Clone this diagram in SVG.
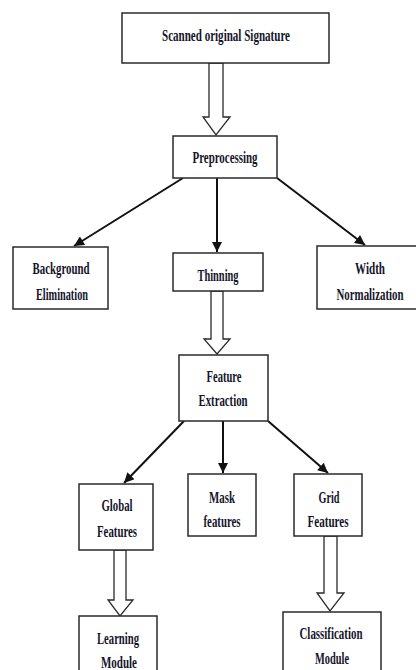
<svg xmlns="http://www.w3.org/2000/svg" width="416" height="670" viewBox="0 0 416 670">
<style>
.box{fill:#fff;stroke:#2a2a2a;stroke-width:1.5}
.t{font-family:"Liberation Serif","Times New Roman",serif;font-weight:bold;font-size:16px;fill:#14142a;text-anchor:middle}
.ln{stroke:#111;stroke-width:2;fill:none}
.hollow{fill:#fff;stroke:#2a2a2a;stroke-width:1.3;stroke-linejoin:miter}
</style>
<defs>
<marker id="ah" viewBox="0 0 10 10" refX="10" refY="5" markerWidth="5.5" markerHeight="5" orient="auto" markerUnits="strokeWidth">
<path d="M0,0 L10,5 L0,10 z" fill="#111"/>
</marker>
</defs>
<rect width="416" height="670" fill="#fff"/>
<g id="connectors">
<polygon class="hollow" points="209,63 223,63 223,117 230,117 216,135 203,117 209,117"/>
<line class="ln" x1="183" y1="178" x2="74" y2="246" marker-end="url(#ah)"/>
<line class="ln" x1="217" y1="178" x2="217" y2="252" marker-end="url(#ah)"/>
<line class="ln" x1="277" y1="178" x2="365" y2="245" marker-end="url(#ah)"/>
<polygon class="hollow" points="211,291 223,291 223,339 230,339 217,354 204,339 211,339"/>
<line class="ln" x1="184" y1="421" x2="124" y2="483" marker-end="url(#ah)"/>
<line class="ln" x1="223" y1="421" x2="223" y2="473" marker-end="url(#ah)"/>
<line class="ln" x1="268" y1="421" x2="328" y2="473" marker-end="url(#ah)"/>
<polygon class="hollow" points="114,550 126,550 126,600 133,600 120,616 108,600 114,600"/>
<polygon class="hollow" points="324,536 337,536 337,593 344,593 330,611 317,593 324,593"/>
</g>
<g id="scanned">
<rect class="box" x="122" y="13" width="207" height="50"/>
<text class="t" x="226" y="40.5" textLength="128" lengthAdjust="spacingAndGlyphs">Scanned original Signature</text>
</g>
<g id="preprocessing">
<rect class="box" x="173" y="136" width="104" height="42"/>
<text class="t" x="225" y="163" textLength="65" lengthAdjust="spacingAndGlyphs">Preprocessing</text>
</g>
<g id="background">
<rect class="box" x="13" y="247" width="95" height="62"/>
<text class="t" x="61" y="274" textLength="57" lengthAdjust="spacingAndGlyphs">Background</text>
<text class="t" x="62" y="300" textLength="52" lengthAdjust="spacingAndGlyphs">Elimination</text>
</g>
<g id="thinning">
<rect class="box" x="173" y="253" width="90" height="38"/>
<text class="t" x="218" y="281" textLength="41" lengthAdjust="spacingAndGlyphs">Thinning</text>
</g>
<g id="width">
<rect class="box" x="317" y="246" width="100" height="63"/>
<text class="t" x="370" y="274" textLength="30" lengthAdjust="spacingAndGlyphs">Width</text>
<text class="t" x="370" y="300" textLength="67" lengthAdjust="spacingAndGlyphs">Normalization</text>
</g>
<g id="feature">
<rect class="box" x="179" y="355" width="89" height="66"/>
<text class="t" x="224" y="382" textLength="35" lengthAdjust="spacingAndGlyphs">Feature</text>
<text class="t" x="223" y="406" textLength="49" lengthAdjust="spacingAndGlyphs">Extraction</text>
</g>
<g id="global">
<rect class="box" x="79" y="484" width="74" height="66"/>
<text class="t" x="117" y="511" textLength="31" lengthAdjust="spacingAndGlyphs">Global</text>
<text class="t" x="117" y="537" textLength="40" lengthAdjust="spacingAndGlyphs">Features</text>
</g>
<g id="mask">
<rect class="box" x="188" y="474" width="68" height="62"/>
<text class="t" x="222" y="503" textLength="26" lengthAdjust="spacingAndGlyphs">Mask</text>
<text class="t" x="222" y="527" textLength="37" lengthAdjust="spacingAndGlyphs">features</text>
</g>
<g id="grid">
<rect class="box" x="294" y="474" width="68" height="62"/>
<text class="t" x="329" y="503" textLength="21" lengthAdjust="spacingAndGlyphs">Grid</text>
<text class="t" x="328" y="527" textLength="41" lengthAdjust="spacingAndGlyphs">Features</text>
</g>
<g id="learning">
<rect class="box" x="79" y="616" width="78" height="70"/>
<text class="t" x="118" y="644" textLength="42" lengthAdjust="spacingAndGlyphs">Learning</text>
<text class="t" x="119" y="668" textLength="36" lengthAdjust="spacingAndGlyphs">Module</text>
</g>
<g id="classification">
<rect class="box" x="283" y="612" width="98" height="70"/>
<text class="t" x="331" y="639" textLength="63" lengthAdjust="spacingAndGlyphs">Classification</text>
<text class="t" x="332" y="664" textLength="34" lengthAdjust="spacingAndGlyphs">Module</text>
</g>
</svg>
